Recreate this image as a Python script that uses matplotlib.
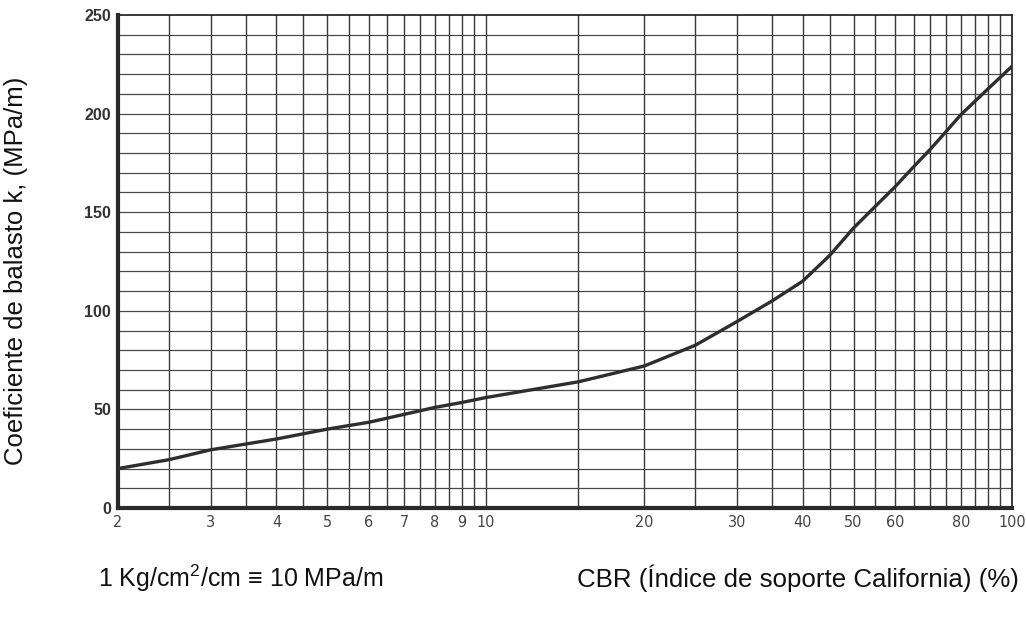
import numpy as np
import matplotlib
matplotlib.use("Agg")
import matplotlib.pyplot as plt
from matplotlib.ticker import FixedLocator, NullFormatter
from matplotlib import font_manager

# ---- data ----
cbr = [2, 2.5, 3, 4, 5, 6, 7, 8, 9, 10, 15, 20, 25, 30, 35, 40, 45, 50,
       55, 60, 65, 70, 75, 80, 90, 100]
k_mpa = [20, 24.5, 29.5, 35, 40, 43.5, 47.5, 51, 53.5, 56, 64, 72, 82.5, 94.5,
         105, 115, 128, 142, 153, 163, 173, 182, 191, 199.5, 212.5, 224]

x_ticks = [2, 3, 4, 5, 6, 7, 8, 9, 10, 20, 30, 40, 50, 60, 80, 100]
x_tick_labels = [str(v) for v in x_ticks]
x_grid = [2.5, 3, 3.5, 4, 4.5, 5, 5.5, 6, 6.5, 7, 7.5, 8, 8.5, 9, 9.5, 10,
          15, 20, 25, 30, 35, 40, 45, 50, 55, 60, 65, 70, 75, 80, 85, 90, 95]
y_ticks = [0, 50, 100, 150, 200, 250]
y_grid = list(range(10, 250, 10))

y_label = "Coeficiente de balasto k, (MPa/m)"
x_label = "CBR (Índice de soporte California) (%)"
note = "1 Kg/cm$^2$/cm \u2261 10 MPa/m"

plt.rcParams['font.family'] = ['Liberation Sans', 'DejaVu Sans']
plt.rcParams['mathtext.fontset'] = 'custom'
plt.rcParams['mathtext.rm'] = 'Liberation Sans'

installed = {f.name for f in font_manager.fontManager.ttflist}
narrow = 'Liberation Sans Narrow' if 'Liberation Sans Narrow' in installed else None

fig = plt.figure(figsize=(10.26, 6.18), dpi=100)
ax = fig.add_axes([118/1026, 1-508/618, (1012-118)/1026, (508-15)/618])

ax.set_xscale('log')
ax.set_xlim(2, 100)
ax.set_ylim(0, 250)

ax.xaxis.set_major_locator(FixedLocator(x_ticks))
ax.set_xticklabels(x_tick_labels)
ax.xaxis.set_minor_locator(FixedLocator(x_grid))
ax.xaxis.set_minor_formatter(NullFormatter())
ax.set_yticks(y_ticks)
ax.yaxis.set_minor_locator(FixedLocator(y_grid))

ax.grid(False)
for xv in x_grid:
    ax.axvline(xv, color='#3a3a3a', lw=1.0, zorder=1)
for yv in y_grid:
    ax.axhline(yv, color='#4a4a4a', lw=0.9, zorder=1)

ax.plot(cbr, k_mpa, color='#2e2e2e', lw=2.4, zorder=3, solid_capstyle='round')

ax.tick_params(axis='both', which='both', length=0)
ax.tick_params(axis='y', pad=5, labelsize=11.5, labelcolor='#333333')
ax.tick_params(axis='x', pad=5, labelsize=11.5, labelcolor='#444444')
for lab in ax.get_yticklabels():
    lab.set_fontweight('bold')
for lab in ax.get_xticklabels():
    if narrow:
        lab.set_family([narrow, 'DejaVu Sans'])
    else:
        lab.set_family(['DejaVu Sans'])
        lab.set_fontstretch('condensed')

ax.spines['left'].set_linewidth(3.0)
ax.spines['bottom'].set_linewidth(3.0)
ax.spines['top'].set_linewidth(1.3)
ax.spines['right'].set_linewidth(1.3)
for s in ax.spines.values():
    s.set_color('#2a2a2a')

fig.text(16/1026, 1-271/618, y_label, rotation=90, ha='center', va='center',
         fontsize=18.5, color='#111111')
fig.text(98/1026, 1-578/618, note, ha='left', va='center', fontsize=18,
         color='#111111')
fig.text(1019/1026, 1-578/618, x_label, ha='right', va='center', fontsize=18.6,
         color='#111111')

fig.savefig('out.png', dpi=100)
